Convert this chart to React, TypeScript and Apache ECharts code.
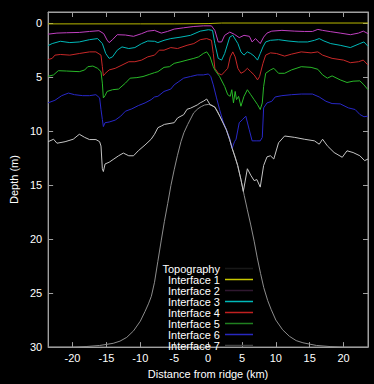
import React, { useEffect, useRef } from "react";
import * as echarts from "echarts";

// Tick labels
const xTicks = [-20, -15, -10, -5, 0, 5, 10, 15, 20];
const yTicks = [0, 5, 10, 15, 20, 25, 30];

const seriesNames = [
  "Topography",
  "Interface 1",
  "Interface 2",
  "Interface 3",
  "Interface 4",
  "Interface 5",
  "Interface 6",
  "Interface 7",
];

// [distance km, depth]
const topography: [number, number][] = [
  [-23.6, 30], [-20, 30], [-18, 29.95], [-16, 29.85], [-14, 29.65], [-13, 29.45], [-12, 29.1],
  [-11, 28.5], [-10, 27.6], [-9.3, 26.7], [-8.8, 26.0], [-8.37, 25.3], [-7.9, 24.0], [-7.42, 22.1],
  [-6.9, 20.1], [-6.45, 18.4], [-5.95, 16.7], [-5.48, 15.04], [-5.0, 13.6], [-4.53, 12.3],
  [-4.0, 11.0], [-3.56, 10.16], [-3.0, 9.4], [-2.12, 8.33], [-1.5, 7.95], [-1, 7.75], [-0.5, 7.6],
  [0.04, 7.55], [0.5, 7.6], [1, 7.8], [1.4, 8.2], [1.73, 8.64], [2.2, 9.2], [2.7, 9.9], [3.17, 10.77],
  [3.55, 11.6], [4.0, 12.4], [4.37, 13.2], [4.85, 14.5], [5.33, 15.96], [5.8, 17.3], [6.3, 18.7],
  [6.8, 20.2], [7.26, 21.75], [7.75, 23.2], [8.22, 24.5], [8.8, 25.7], [9.3, 26.5], [10, 27.5],
  [11, 28.4], [12, 29.0], [13, 29.4], [14, 29.6], [16, 29.85], [18, 29.95], [20, 30], [23.6, 30],
];

const interface1: [number, number][] = [
  [-23.6, 0.1], [-10, 0.1], [-5, 0.1], [0, 0.07], [2, 0.02], [23.6, 0.02],
];

const interface2: [number, number][] = [
  [-23.6, 1.05], [-22.3, 0.95], [-20.9, 0.92], [-19, 0.89], [-17.5, 0.8], [-16.1, 0.73],
  [-15.4, 1.0], [-14.9, 1.6], [-14.6, 1.83], [-14.1, 1.56], [-13.4, 1.1], [-12.2, 1.13],
  [-11, 1.25], [-9.8, 1.0], [-8.9, 0.77], [-7.9, 0.7], [-6.9, 0.95], [-6, 0.8], [-5, 0.58],
  [-3.6, 0.46], [-2.1, 0.34], [-0.7, 0.28], [0.5, 0.28], [1.0, 0.7], [1.5, 1.77], [2.0, 1.77],
  [2.45, 1.16], [3.2, 0.86], [3.9, 1.07], [4.6, 1.37], [5.3, 1.16], [6.1, 1.25], [6.5, 1.77],
  [7.0, 1.46], [7.7, 1.92], [8.2, 1.32], [8.7, 0.95], [9.4, 0.77], [10.9, 0.7], [12.8, 0.77],
  [14.2, 0.8], [15.4, 0.8], [16.2, 0.61], [16.9, 0.7], [18.1, 0.82], [19.5, 0.95], [21, 1.1],
  [22.2, 0.95], [22.9, 0.77], [23.6, 1.0],
];

const interface3: [number, number][] = [
  [-23.6, 2.1], [-23.0, 1.92], [-21.8, 1.71], [-20.4, 1.83], [-19, 1.77], [-17.5, 1.56],
  [-16.3, 1.46], [-15.6, 1.92], [-15.1, 2.84], [-14.6, 3.29], [-14.1, 3.15], [-13.4, 2.53],
  [-12.7, 2.23], [-11.7, 2.38], [-10.8, 2.29], [-9.8, 1.92], [-8.9, 1.68], [-7.9, 1.71],
  [-7.4, 1.83], [-6.5, 1.62], [-5.5, 1.46], [-4.0, 1.32], [-2.6, 1.16], [-1.15, 0.77],
  [0.05, 0.64], [0.66, 0.7], [1.0, 1.92], [1.5, 3.29], [2.0, 3.45], [2.45, 2.84], [3.2, 1.32],
  [3.65, 1.16], [4.4, 1.92], [4.85, 2.69], [5.3, 2.99], [5.8, 2.69], [6.3, 2.84], [6.8, 3.08],
  [7.3, 3.45], [7.7, 2.84], [8.1, 2.23], [8.5, 1.77], [9.2, 1.62], [10.4, 1.56], [11.8, 1.68],
  [13.3, 1.77], [14.7, 1.77], [15.7, 1.62], [16.4, 1.46], [17.1, 1.68], [18.1, 1.92],
  [19.5, 2.08], [21, 2.29], [22.4, 1.92], [23, 1.77], [23.6, 2.17],
];

const interface4: [number, number][] = [
  [-23.6, 3.4], [-23.0, 3.29], [-22.6, 2.99], [-21.8, 2.93], [-20.4, 2.99], [-19, 2.84],
  [-17.5, 2.69], [-16.55, 2.69], [-15.8, 2.99], [-15.6, 4.06], [-15.45, 4.9], [-15.2, 4.7],
  [-14.6, 4.36], [-13.7, 4.21], [-12.7, 3.91], [-11.7, 3.6], [-10.8, 3.6], [-9.8, 3.45],
  [-8.9, 3.15], [-7.9, 2.99], [-7.2, 2.53], [-6.5, 2.53], [-5.5, 2.29], [-4.5, 2.38],
  [-3.1, 2.08], [-2.1, 1.92], [-1.15, 1.56], [-0.2, 1.46], [0.5, 1.62], [0.77, 2.84],
  [1.0, 4.21], [1.5, 4.67], [2.0, 4.82], [2.45, 4.52], [2.9, 4.21], [3.27, 3.15], [3.65, 2.69],
  [4.0, 3.15], [4.4, 4.21], [4.85, 4.67], [5.3, 4.52], [5.8, 4.21], [6.3, 4.52], [6.8, 4.82],
  [7.3, 5.28], [7.6, 4.97], [8.1, 3.75], [8.5, 2.99], [9.2, 2.78], [10.1, 2.84], [11.3, 3.08],
  [12.3, 2.9], [13.75, 2.69], [15.2, 2.78], [16.2, 2.69], [16.9, 2.99], [18.3, 3.29],
  [20, 3.45], [21, 3.69], [22.2, 3.6], [22.9, 3.45], [23.6, 3.91],
];

const interface5: [number, number][] = [
  [-23.6, 4.95], [-22.8, 4.82], [-22.1, 4.43], [-20.9, 4.46], [-19, 4.52], [-18.2, 4.36],
  [-17.75, 4.06], [-17, 4.0], [-16.3, 4.21], [-15.8, 4.52], [-15.6, 5.58], [-15.45, 6.95],
  [-15.2, 6.74], [-14.9, 6.35], [-14.1, 6.19], [-13.2, 6.13], [-12.2, 5.58], [-11.5, 5.12],
  [-10.5, 5.07], [-9.6, 4.97], [-8.6, 4.76], [-7.9, 4.61], [-7.4, 4.52], [-6.5, 4.12],
  [-5.7, 4.06], [-5, 3.75], [-4, 3.6], [-3.1, 3.45], [-2.1, 3.29], [-1.4, 3.15], [-0.7, 2.84],
  [-0.2, 2.69], [0.3, 3.15], [0.77, 4.06], [1.0, 4.36], [1.7, 4.97], [2.45, 5.89], [2.9, 6.65],
  [3.27, 6.8], [3.5, 6.19], [3.75, 7.41], [4.0, 6.35], [4.2, 7.11], [4.5, 6.8], [4.85, 7.72],
  [5.3, 6.8], [5.8, 6.19], [6.3, 6.65], [6.8, 7.11], [7.3, 7.57], [7.7, 8.02], [8.0, 7.41],
  [8.2, 5.89], [8.5, 4.67], [9.2, 4.36], [9.7, 4.21], [10.4, 4.67], [11.3, 4.67], [12.3, 4.36],
  [13.75, 4.06], [15.2, 4.12], [16.2, 4.3], [16.9, 4.82], [17.6, 5.12], [18.3, 4.91],
  [19.5, 5.28], [20.5, 5.52], [21.4, 5.4], [22.4, 5.37], [23, 5.74], [23.6, 6.19],
];

const interface6: [number, number][] = [
  [-23.6, 7.4], [-22.6, 7.17], [-21.6, 6.74], [-20.6, 6.5], [-19.7, 6.65], [-18.5, 6.74],
  [-17.5, 6.74], [-16.55, 6.65], [-16.0, 6.95], [-15.8, 8.02], [-15.6, 8.94], [-15.45, 9.6],
  [-15.2, 9.24], [-14.6, 9.18], [-13.7, 9.0], [-12.9, 8.64], [-12.2, 8.18], [-11.25, 7.96],
  [-10.3, 7.66], [-9.3, 7.41], [-8.4, 7.11], [-7.9, 6.86], [-7.4, 6.8], [-6.5, 6.35],
  [-5.5, 6.13], [-5, 5.74], [-4.3, 5.43], [-3.6, 5.12], [-2.6, 4.97], [-1.6, 4.82],
  [-0.7, 4.82], [0.05, 4.73], [0.4, 4.97], [0.77, 5.74], [1.25, 6.95], [1.7, 8.02], [2.2, 9.1],
  [2.7, 9.9], [3.2, 10.7], [3.55, 11.6], [3.9, 11.0], [4.13, 10.77], [4.6, 9.24], [5.1, 8.94],
  [5.57, 8.64], [6.06, 9.85], [6.5, 10.92], [7.2, 10.92], [7.7, 10.92], [8.0, 10.6],
  [8.2, 7.87], [8.7, 7.41], [9.4, 7.26], [9.9, 6.86], [10.9, 6.74], [12.3, 6.65],
  [13.75, 6.59], [15.4, 6.59], [16.4, 6.86], [17.4, 7.26], [18.3, 7.47], [19.5, 7.5],
  [20.7, 7.87], [21.7, 8.02], [22.4, 8.48], [23.0, 8.69], [23.6, 8.63],
];

const interface7: [number, number][] = [
  [-23.6, 11.0], [-22.8, 10.77], [-22.3, 11.14], [-21.1, 11.0], [-19.9, 10.77], [-19.0, 10.31],
  [-18.2, 10.6], [-17.5, 10.8], [-16.55, 10.8], [-16.0, 11.0], [-15.8, 11.4], [-15.6, 13.5],
  [-15.45, 13.76], [-15.2, 13.06], [-14.6, 12.9], [-13.9, 12.6], [-13.2, 12.3], [-12.5, 12.05],
  [-11.7, 12.3], [-11.0, 12.3], [-10.3, 11.84], [-9.3, 11.3], [-8.4, 10.77], [-7.9, 10.31],
  [-7.4, 9.7], [-6.9, 9.55], [-6.45, 9.4], [-5.0, 9.24], [-4.5, 8.8], [-3.6, 8.5], [-3.1, 8.0],
  [-2.6, 7.9], [-1.6, 7.6], [-1.15, 7.4], [-0.7, 7.26], [-0.2, 7.05], [0.3, 7.58], [1, 7.8],
  [1.73, 8.64], [2.7, 9.9], [3.17, 10.77], [3.55, 11.6], [4.37, 13.2], [4.85, 14.5],
  [5.2, 15.6], [5.8, 13.5], [6.3, 14.1], [6.8, 14.6], [7.2, 14.5], [7.7, 15.2], [8.2, 13.2],
  [8.7, 12.4], [9.2, 12.3], [9.7, 12.6], [10.4, 11.1], [11.3, 10.47], [12.8, 10.6],
  [14.2, 10.77], [15.7, 10.92], [16.4, 11.23], [16.9, 10.77], [17.6, 11.38], [18.6, 12.0],
  [19.8, 12.44], [20.5, 11.84], [21.4, 12.0], [22.4, 12.3], [23.1, 12.75], [23.6, 12.6],
];

const seriesData = [
  topography, interface1, interface2, interface3, interface4, interface5, interface6, interface7,
];

const lineColors = [
  "#8c8c8c", "#b8b800", "#c040c0", "#00b8b8", "#c82828", "#28b828", "#2828c8", "#c4c4c4",
];
const legendColors = [
  "#181818", "#c8c800", "#301830", "#00b8b8", "#c02020", "#208020", "#2828c0", "#404040",
];

const FONT = "'Liberation Sans', Arial, sans-serif";
const AXIS_COLOR = "#a0a0a0";

export default function App() {
  const ref = useRef<HTMLDivElement>(null);

  useEffect(() => {
    document.body.style.margin = "0";
    document.body.style.background = "#000";
    const chart = echarts.init(ref.current!, null, { renderer: "svg" });
    const axisLine = { show: true, onZero: false, lineStyle: { color: AXIS_COLOR, width: 1 } };
    const tickStyle = { color: AXIS_COLOR, width: 1 };
    chart.setOption({
      animation: false,
      backgroundColor: "#000",
      textStyle: { fontFamily: FONT },
      grid: {
        left: 41,
        right: 6,
        top: 12,
        bottom: 34,
        containLabel: false,
        show: true,
        borderColor: AXIS_COLOR,
        borderWidth: 1,
        backgroundColor: "transparent",
      },
      xAxis: [
        {
          type: "value",
          position: "bottom",
          min: -23.6,
          max: 23.6,
          axisLine,
          splitLine: { show: false },
          axisTick: { show: true, inside: true, length: 5, customValues: xTicks, lineStyle: tickStyle },
          axisLabel: {
            show: true,
            customValues: xTicks,
            color: "#fff",
            fontSize: 11,
            fontFamily: FONT,
            margin: 5,
          },
          name: "Distance from ridge (km)",
          nameLocation: "middle",
          nameGap: 20,
          nameTextStyle: { color: "#fff", fontSize: 11, fontFamily: FONT },
        },
        {
          type: "value",
          position: "top",
          show: true,
          min: -23.6,
          max: 23.6,
          axisLine,
          splitLine: { show: false },
          axisTick: { show: true, inside: true, length: 5, customValues: xTicks, lineStyle: tickStyle },
          axisLabel: { show: false },
        },
      ],
      yAxis: [
        {
          type: "value",
          position: "left",
          inverse: true,
          min: -1,
          max: 30,
          axisLine,
          splitLine: { show: false },
          axisTick: { show: true, inside: true, length: 5, customValues: yTicks, lineStyle: tickStyle },
          axisLabel: {
            show: true,
            customValues: yTicks,
            color: "#fff",
            fontSize: 11,
            fontFamily: FONT,
            margin: 6,
          },
          name: "Depth (m)",
          nameLocation: "middle",
          nameGap: 24,
          nameRotate: 90,
          nameTextStyle: { color: "#fff", fontSize: 11, fontFamily: FONT },
        },
        {
          type: "value",
          position: "right",
          show: true,
          inverse: true,
          min: -1,
          max: 30,
          axisLine,
          splitLine: { show: false },
          axisTick: { show: true, inside: true, length: 5, customValues: yTicks, lineStyle: tickStyle },
          axisLabel: { show: false },
        },
      ],
      legend: {
        orient: "vertical",
        right: 121,
        top: 263,
        align: "right",
        icon: "rect",
        itemWidth: 28,
        itemHeight: 1.5,
        itemGap: 0,
        padding: 0,
        textStyle: { color: "#fff", fontSize: 11, fontFamily: FONT, lineHeight: 10.5 },
        data: seriesNames.map((name, i) => ({
          name,
          itemStyle: { color: legendColors[i] },
        })),
      },
      series: [
        ...seriesNames.map((name, i) => ({
          name,
          type: "line",
          xAxisIndex: 0,
          yAxisIndex: 0,
          data: seriesData[i],
          symbol: "none",
          showSymbol: false,
          clip: true,
          lineStyle: { color: lineColors[i], width: 1 },
          itemStyle: { color: legendColors[i] },
        })),
        {
          name: "mirror",
          type: "line",
          xAxisIndex: 1,
          yAxisIndex: 1,
          data: [],
          symbol: "none",
          silent: true,
        },
      ],
    });
    return () => chart.dispose();
  }, []);

  return (
    <div
      ref={ref}
      style={{ position: "absolute", left: 0, top: 0, width: 374, height: 384 }}
    />
  );
}
